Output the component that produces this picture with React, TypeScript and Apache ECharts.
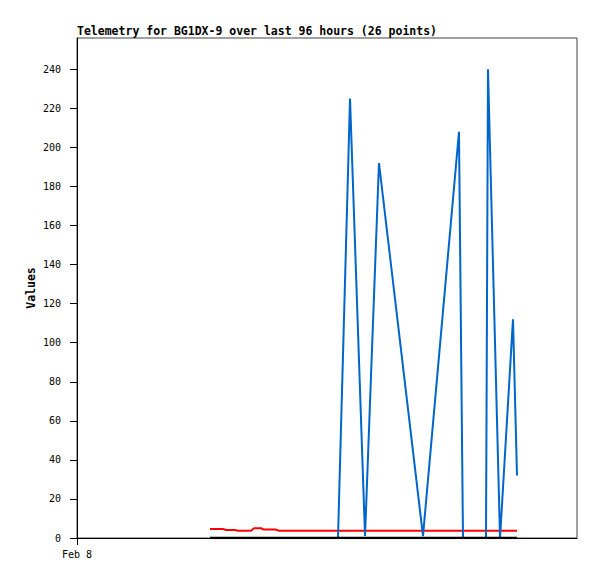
import React, { useEffect, useRef } from "react";
import * as echarts from "echarts";

// Hours since Feb 8 00:00 (window spans 96 hours)
const hours = [
  25.54, 28.03, 28.61, 30.34, 30.91, 33.41, 33.98, 35.33, 35.9, 38.21, 38.78,
  41.86, 45.12, 47.62, 50.11, 52.42, 55.3, 57.98, 66.43, 73.34, 74.11, 78.53,
  78.91, 81.22, 83.71, 84.48,
];
const blueValues = [
  0, 0, 0, 0, 0, 0, 0, 0, 0, 0, 0, 0, 0, 0, 0, 225, 1, 192, 1, 208, 0, 0, 240,
  0, 112, 32,
];
const redValues = [
  4.6, 4.6, 4.1, 4.1, 3.7, 3.7, 5.0, 5.0, 4.3, 4.3, 3.7, 3.7, 3.7, 3.7, 3.7,
  3.7, 3.7, 3.7, 3.7, 3.7, 3.7, 3.7, 3.7, 3.7, 3.7, 3.7,
];
const blackValues = [
  0, 0, 0, 0, 0, 0, 0, 0, 0, 0, 0, 0, 0, 0, 0, 0, 0, 0, 0, 0, 0, 0, 0, 0, 0, 0,
];
const yTicks = [0, 20, 40, 60, 80, 100, 120, 140, 160, 180, 200, 220, 240];
const xTickLabel = "Feb 8";
const titleText = "Telemetry for BG1DX-9 over last 96 hours (26 points)";
const yName = "Values";

const mono = "DejaVu Sans Mono";

export default function App() {
  const ref = useRef<HTMLDivElement>(null);
  useEffect(() => {
    document.body.style.margin = "0";
    const chart = echarts.init(ref.current!, null, { renderer: "svg" });
    const pair = (vals: number[]) => hours.map((h, i) => [h, vals[i]]);
    chart.setOption({
      animation: false,
      backgroundColor: "#fff",
      title: {
        text: titleText,
        left: 77,
        top: 25,
        padding: 0,
        textStyle: {
          fontFamily: mono,
          fontWeight: "bold",
          fontSize: 11.5,
          color: "#000",
        },
      },
      grid: {
        left: 77,
        top: 38,
        right: 20,
        bottom: 41,
        show: true,
        borderColor: "#444",
        borderWidth: 1,
        containLabel: false,
      },
      xAxis: {
        type: "value",
        min: 0,
        max: 96,
        interval: 96,
        axisLine: { show: true, onZero: false, lineStyle: { color: "#000", width: 1 } },
        axisTick: {
          show: true,
          length: 7,
          customValues: [0],
          lineStyle: { color: "#000" },
        },
        axisLabel: {
          customValues: [0],
          formatter: (v: number) => (v === 0 ? xTickLabel : ""),
          fontFamily: mono,
          fontSize: 10,
          color: "#000",
          margin: 11,
        },
        splitLine: { show: false },
      },
      yAxis: {
        type: "value",
        min: 0,
        max: 256,
        interval: 20,
        name: yName,
        nameLocation: "middle",
        nameGap: 40,
        nameMoveOverlap: false,
        nameTextStyle: {
          fontFamily: mono,
          fontWeight: "bold",
          fontSize: 11.5,
          color: "#000",
        },
        axisLine: { show: true, lineStyle: { color: "#000", width: 1 } },
        axisTick: {
          show: true,
          length: 7,
          customValues: yTicks,
          lineStyle: { color: "#000" },
        },
        axisLabel: {
          customValues: yTicks,
          fontFamily: mono,
          fontSize: 10,
          color: "#000",
          margin: 16,
        },
        splitLine: { show: false },
      },
      series: [
        {
          type: "line",
          data: pair(redValues),
          showSymbol: false,
          lineStyle: { color: "#ff0000", width: 2 },
          itemStyle: { color: "#ff0000" },
          z: 2,
        },
        {
          type: "line",
          data: pair(blueValues),
          showSymbol: false,
          lineStyle: { color: "#0066cc", width: 2 },
          itemStyle: { color: "#0066cc" },
          z: 3,
        },
        {
          type: "line",
          data: pair(blackValues),
          showSymbol: false,
          lineStyle: { color: "#000000", width: 2.5 },
          itemStyle: { color: "#000" },
          z: 4,
        },
      ],
    });
    return () => chart.dispose();
  }, []);
  return (
    <div
      ref={ref}
      style={{ position: "absolute", left: 0, top: 0, width: 597, height: 579 }}
    />
  );
}
